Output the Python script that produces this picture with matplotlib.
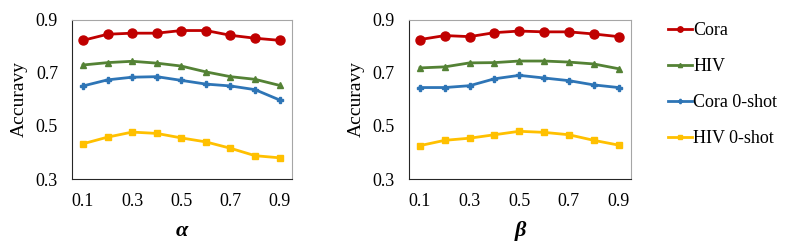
import numpy as np
import matplotlib.pyplot as plt

plt.rcParams['font.family'] = ['Liberation Serif', 'DejaVu Serif']

x = [0.1, 0.2, 0.3, 0.4, 0.5, 0.6, 0.7, 0.8, 0.9]
series_names = ["Cora", "HIV", "Cora 0-shot", "HIV 0-shot"]

# alpha panel
cora_a = [0.823, 0.846, 0.850, 0.850, 0.860, 0.860, 0.842, 0.831, 0.823]
hiv_a = [0.730, 0.739, 0.744, 0.737, 0.726, 0.704, 0.686, 0.676, 0.653]
cora0_a = [0.651, 0.674, 0.684, 0.686, 0.672, 0.658, 0.651, 0.637, 0.598]
hiv0_a = [0.433, 0.458, 0.477, 0.472, 0.455, 0.440, 0.416, 0.388, 0.380]

# beta panel
cora_b = [0.826, 0.841, 0.837, 0.852, 0.858, 0.855, 0.855, 0.847, 0.837]
hiv_b = [0.719, 0.723, 0.738, 0.739, 0.745, 0.745, 0.741, 0.734, 0.716]
cora0_b = [0.645, 0.645, 0.652, 0.678, 0.691, 0.681, 0.671, 0.655, 0.645]
hiv0_b = [0.426, 0.446, 0.454, 0.467, 0.480, 0.476, 0.467, 0.446, 0.428]

colors = ["#C00000", "#548235", "#2E75B6", "#FFC000"]
markers = ["o", "^", "P", "s"]
msizes = [6.5, 5, 5, 4.5]

fig = plt.figure(figsize=(7.97, 2.49), dpi=100)
ax1 = fig.add_axes([0.0903, 0.281, 0.276, 0.639])
ax2 = fig.add_axes([0.513, 0.281, 0.2786, 0.639])

panels = [(ax1, [cora_a, hiv_a, cora0_a, hiv0_a], 'α'),
          (ax2, [cora_b, hiv_b, cora0_b, hiv0_b], 'β')]

for ax, data, xl in panels:
    for ys, c, m, ms, name in zip(data, colors, markers, msizes, series_names):
        ax.plot(x, ys, color=c, marker=m, markersize=ms, linewidth=2.0, label=name)
    ax.set_xlim(0.055, 0.95)
    ax.set_ylim(0.3, 0.9)
    ax.set_xticks([0.1, 0.3, 0.5, 0.7, 0.9])
    ax.set_yticks([0.3, 0.5, 0.7, 0.9])
    ax.tick_params(length=0, labelsize=13, pad=10)
    ax.set_ylabel("Accuravy", fontsize=14, labelpad=6)
    ax.set_xlabel(xl, fontsize=16, fontweight='bold', fontstyle='italic', labelpad=8)
    for s in ['top', 'right']:
        ax.spines[s].set_color('#a6a6a6')
    for s in ['left', 'bottom']:
        ax.spines[s].set_color('#262626')

handles, labels = ax1.get_legend_handles_labels()
fig.legend(handles, labels, loc='upper left', bbox_to_anchor=(0.818, 0.975),
           frameon=False, fontsize=13, handlelength=1.3, handletextpad=0.1,
           labelspacing=1.05, markerscale=0.6)

fig.savefig("out.png", dpi=100)
